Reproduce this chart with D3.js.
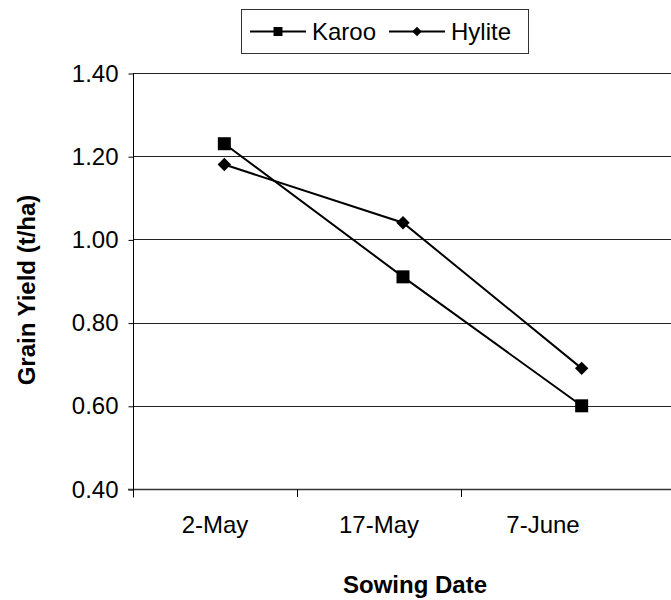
<!DOCTYPE html>
<html>
<head>
<meta charset="utf-8">
<script src="https://cdn.jsdelivr.net/npm/d3@7"></script>
<style>
  html, body { margin: 0; padding: 0; background: #fff; }
  svg { display: block; font-family: "Liberation Sans", Arial, sans-serif; }
</style>
</head>
<body>
<svg id="chart" width="671" height="600"></svg>
<script>
// Sowing dates and grain yield (t/ha) per variety
const categories = ["2-May", "17-May", "7-June"];
const karoo = [1.23, 0.91, 0.60];
const hylite = [1.18, 1.04, 0.69];
const yTicks = [0.40, 0.60, 0.80, 1.00, 1.20, 1.40];
const seriesNames = ["Karoo", "Hylite"];

const svg = d3.select("#chart");
const plot = { left: 133, right: 671, top: 73, bottom: 489 };

const y = d3.scaleLinear().domain([0.40, 1.40]).range([plot.bottom, plot.top]);
// positions of the data markers
const xData = d3.scaleBand().domain(categories).range([plot.left + 2, plot.right]);
// category axis labels and tick marks
const xAxisScale = d3.scaleBand().domain(categories).range([plot.left, 625]);

// horizontal gridlines
svg.append("g").selectAll("line")
  .data(yTicks.slice(1))
  .join("line")
  .attr("x1", plot.left).attr("x2", plot.right)
  .attr("y1", d => Math.round(y(d)) + 0.5).attr("y2", d => Math.round(y(d)) + 0.5)
  .attr("stroke", "#222").attr("stroke-width", 1);

// y axis
const yAxis = d3.axisLeft(y).tickValues(yTicks).tickFormat(d3.format(".2f")).tickSize(5).tickPadding(10);
const gy = svg.append("g").attr("transform", `translate(${plot.left + 0.5},0.5)`).call(yAxis);
gy.select(".domain").attr("stroke", "#000").attr("d", `M0,${plot.top - 0.5}V${plot.bottom + 8}`);
gy.selectAll(".tick line").attr("stroke", "#000");
gy.selectAll(".tick text").attr("font-size", 24).attr("fill", "#000")
  .attr("font-family", "Liberation Sans, Arial, sans-serif");

// x axis baseline
svg.append("line")
  .attr("x1", plot.left - 5).attr("x2", plot.right)
  .attr("y1", plot.bottom + 0.5).attr("y2", plot.bottom + 0.5)
  .attr("stroke", "#333").attr("stroke-width", 1.5);

// x tick marks at category boundaries
svg.append("g").selectAll("line")
  .data(categories)
  .join("line")
  .attr("x1", d => Math.round(xAxisScale(d)) + 0.5).attr("x2", d => Math.round(xAxisScale(d)) + 0.5)
  .attr("y1", plot.bottom).attr("y2", plot.bottom + 8)
  .attr("stroke", "#000");

// x tick labels
svg.append("g").selectAll("text")
  .data(categories)
  .join("text")
  .attr("x", d => xAxisScale(d) + xAxisScale.bandwidth() / 2)
  .attr("y", 533)
  .attr("text-anchor", "middle")
  .attr("font-size", 24)
  .text(d => d);

// axis titles
svg.append("text")
  .attr("x", 415).attr("y", 593)
  .attr("text-anchor", "middle")
  .attr("font-size", 24).attr("font-weight", "bold")
  .text("Sowing Date");

svg.append("text")
  .attr("transform", "translate(35,290) rotate(-90)")
  .attr("text-anchor", "middle")
  .attr("font-size", 24).attr("font-weight", "bold")
  .text("Grain Yield (t/ha)");

// series lines and markers
const line = d3.line()
  .x((d, i) => xData(categories[i]) + xData.bandwidth() / 2)
  .y(d => y(d));

const squareSym = d3.symbol().type(d3.symbolSquare).size(169);
const diamondSym = d3.symbol().type(d3.symbolSquare).size(90);

function drawSeries(values, kind) {
  svg.append("path")
    .datum(values)
    .attr("d", line)
    .attr("fill", "none")
    .attr("stroke", "#000")
    .attr("stroke-width", 2);
  svg.append("g").selectAll("path")
    .data(values)
    .join("path")
    .attr("transform", (d, i) => {
      const cx = xData(categories[i]) + xData.bandwidth() / 2;
      return `translate(${cx},${y(d)})` + (kind === "diamond" ? " rotate(45)" : "");
    })
    .attr("d", kind === "diamond" ? diamondSym() : squareSym())
    .attr("fill", "#000");
}
drawSeries(karoo, "square");
drawSeries(hylite, "diamond");

// legend
const lg = svg.append("g");
lg.append("rect")
  .attr("x", 241.5).attr("y", 9.5).attr("width", 287).attr("height", 44)
  .attr("fill", "#fff").attr("stroke", "#333").attr("stroke-width", 1);

const legendItems = [
  { name: seriesNames[0], x: 250, kind: "square" },
  { name: seriesNames[1], x: 389, kind: "diamond" }
];
legendItems.forEach(it => {
  lg.append("line")
    .attr("x1", it.x).attr("x2", it.x + 56)
    .attr("y1", 31.5).attr("y2", 31.5)
    .attr("stroke", "#000").attr("stroke-width", 2);
  lg.append("path")
    .attr("transform", `translate(${it.x + 28},31.5)` + (it.kind === "diamond" ? " rotate(45)" : ""))
    .attr("d", d3.symbol().type(d3.symbolSquare).size(it.kind === "diamond" ? 45 : 81)())
    .attr("fill", "#000");
  lg.append("text")
    .attr("x", it.x + 62).attr("y", 40)
    .attr("font-size", 24)
    .text(it.name);
});
</script>
</body>
</html>
